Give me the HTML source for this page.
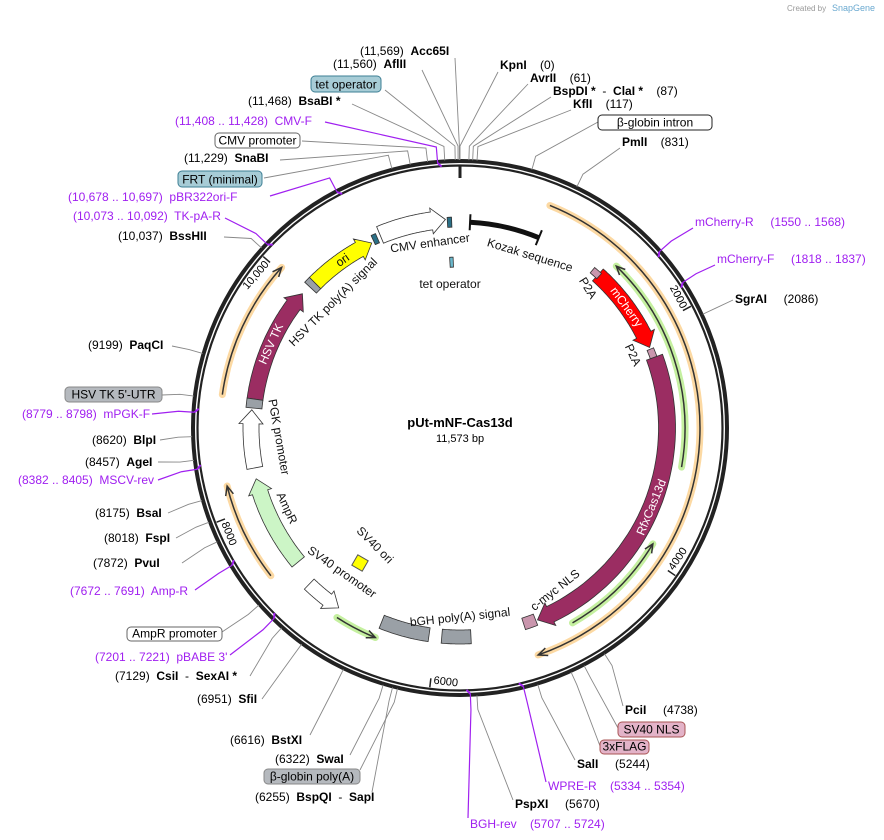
<!DOCTYPE html>
<html><head><meta charset="utf-8"><style>
html,body{margin:0;padding:0;background:#fff;}
svg{display:block;font-family:"Liberation Sans","DejaVu Sans",sans-serif;}
text{font-size:12px;}
.b{font-weight:bold;}
</style></head><body>
<svg id="s" width="884" height="840" viewBox="0 0 884 840" xmlns="http://www.w3.org/2000/svg">
<text x="787" y="11" style="font-size:8px" fill="#999">Created by</text>
<text x="832" y="11" style="font-size:9px" fill="#6aa9d0">SnapGene</text>
<g id="g"></g>
<text x="460" y="427" text-anchor="middle" class="b" style="font-size:13px">pUt-mNF-Cas13d</text>
<text x="460" y="442" text-anchor="middle" style="font-size:11px">11,573 bp</text>
</svg>
<script>
var NS="http://www.w3.org/2000/svg",G=document.getElementById('g');
var cx=460,cy=428,TOT=11573;
function el(t,a,txt){var e=document.createElementNS(NS,t);for(var k in a)e.setAttribute(k,a[k]);if(txt!==undefined)e.textContent=txt;G.appendChild(e);return e;}
function pt(r,d){var a=d*Math.PI/180;return [cx+r*Math.sin(a),cy-r*Math.cos(a)];}
function bp(b){return b/TOT*360;}
function band(r,w,a1,a2,head,fill,stroke){
 var pts=[],dir=a2>a1?1:-1,hd=head?Math.min(14/r*180/Math.PI,Math.abs(a2-a1)*0.6):0;
 var e=a2-dir*hd,n=40,i,a;
 for(i=0;i<=n;i++){a=a1+(e-a1)*i/n;pts.push(pt(r+w/2,a));}
 if(head){pts.push(pt(r+w/2+4,e));pts.push(pt(r,a2));pts.push(pt(r-w/2-4,e));}
 for(i=n;i>=0;i--){a=a1+(e-a1)*i/n;pts.push(pt(r-w/2,a));}
 el('polygon',{points:pts.map(function(p){return p[0].toFixed(1)+','+p[1].toFixed(1)}).join(' '),fill:fill,stroke:stroke||'#333','stroke-width':0.8});
}
function arcPath(r,a1,a2){var p1=pt(r,a1),p2=pt(r,a2),lg=Math.abs(a2-a1)>180?1:0,sw=a2>a1?1:0;return 'M'+p1[0]+','+p1[1]+' A'+r+','+r+' 0 '+lg+' '+sw+' '+p2[0]+','+p2[1];}
function primerArc(r,a1,a2,halo,noHead){
 el('path',{d:arcPath(r,a1,a2),fill:'none',stroke:halo,'stroke-width':7,'stroke-linecap':'round'});
 el('path',{d:arcPath(r,a1,a2),fill:'none',stroke:'#333','stroke-width':1.5});
 if(noHead)return;
 var dir=a2>a1?1:-1,b=a2-dir*2.2,p=pt(r,a2),q1=pt(r+4,b),q2=pt(r-4,b);
 el('polyline',{points:q1.join(',')+' '+p.join(',')+' '+q2.join(','),fill:'none',stroke:'#333','stroke-width':1.5});
}
el('circle',{cx:cx,cy:cy,r:267,fill:'none',stroke:'#222','stroke-width':4});
el('circle',{cx:cx,cy:cy,r:262.5,fill:'none',stroke:'#222','stroke-width':2.2});
[[2000,'2000',62,'end'],[4000,'4000',-55.6,'start'],[6000,'6000',6.6,'start'],[8000,'8000',68.8,'start'],[10000,'10,000',-49,'end']].forEach(function(t){
 var a=bp(t[0]),p1=pt(261,a),p2=pt(252,a);el('line',{x1:p1[0],y1:p1[1],x2:p2[0],y2:p2[1],stroke:'#222','stroke-width':1.5});
 var p=pt(254,a);
 var dx=t[3]=='end'?-2:3;
 el('text',{x:dx,y:0,transform:'translate('+p[0]+','+p[1]+') rotate('+t[2]+')','text-anchor':t[3],'dominant-baseline':'central',style:'font-size:11px'},t[1]);
});
el('line',{x1:460,y1:166,x2:460,y2:178,stroke:'#222','stroke-width':3});
var labs=[
 [[['(11,569)  ',0],['Acc65I',1]],360,55,'start',455,58,11569,0],
 [[['(11,560)  ',0],['AflII',1]],333,68,'start',422,70,11560,0],
 [[['(11,468)  ',0],['BsaBI *',1]],248,105,'start',352,104,11468,0],
 [[['(11,408 .. 11,428)  CMV-F',2]],175,125,'start',325,122,11418,1],
 [[['(11,229)  ',0],['SnaBI',1]],184,162,'start',280,160,11229,0],
 [[['(10,678 .. 10,697)  pBR322ori-F',2]],68,201,'start',270,196,10688,1],
 [[['(10,073 .. 10,092)  TK-pA-R',2]],73,220,'start',225,218,10082,1],
 [[['(10,037)  ',0],['BssHII',1]],118,240,'start',224,237,10037,0],
 [[['(9199)  ',0],['PaqCI',1]],88,349,'start',172,346,9199,0],
 [[['(8779 .. 8798)  mPGK-F',2]],22,418,'start',152,414,8789,1],
 [[['(8620)  ',0],['BlpI',1]],92,444,'start',160,440,8620,0],
 [[['(8457)  ',0],['AgeI',1]],85,466,'start',158,462,8457,0],
 [[['(8382 .. 8405)  MSCV-rev',2]],18,484,'start',158,480,8393,1],
 [[['(8175)  ',0],['BsaI',1]],95,517,'start',168,513,8175,0],
 [[['(8018)  ',0],['FspI',1]],104,542,'start',176,538,8018,0],
 [[['(7872)  ',0],['PvuI',1]],93,567,'start',182,563,7872,0],
 [[['(7672 .. 7691)  Amp-R',2]],70,595,'start',195,590,7681,1],
 [[['(7201 .. 7221)  pBABE 3\'',2]],95,661,'start',230,655,7211,1],
 [[['(7129)  ',0],['CsiI',1],['  -  ',0],['SexAI *',1]],115,680,'start',250,676,7129,0],
 [[['(6951)  ',0],['SfiI',1]],197,703,'start',262,699,6951,0],
 [[['(6616)  ',0],['BstXI',1]],230,744,'start',310,735,6616,0],
 [[['(6322)  ',0],['SwaI',1]],275,763,'start',350,755,6322,0],
 [[['(6255)  ',0],['BspQI',1],['  -  ',0],['SapI',1]],255,801,'start',372,792,6255,0],
 [[['KpnI',1],['    (0)',0]],500,69,'start',498,72,0,0],
 [[['AvrII',1],['    (61)',0]],530,82,'start',528,84,61,0],
 [[['BspDI *',1],['  -  ',0],['ClaI *',1],['    (87)',0]],553,95,'start',551,97,87,0],
 [[['KflI',1],['    (117)',0]],573,108,'start',571,110,117,0],
 [[['PmlI',1],['    (831)',0]],622,146,'start',620,148,831,0],
 [[['mCherry-R     (1550 .. 1568)',2]],695,226,'start',693,228,1559,1],
 [[['mCherry-F     (1818 .. 1837)',2]],717,263,'start',715,265,1827,1],
 [[['SgrAI',1],['     (2086)',0]],735,303,'start',733,300,2086,0],
 [[['PciI',1],['     (4738)',0]],625,714,'start',623,706,4738,0],
 [[['SalI',1],['     (5244)',0]],577,768,'start',575,760,5244,0],
 [[['WPRE-R    (5334 .. 5354)',2]],548,790,'start',546,782,5344,1],
 [[['PspXI',1],['     (5670)',0]],515,808,'start',513,800,5670,0],
 [[['BGH-rev    (5707 .. 5724)',2]],470,828,'start',468,818,5715,1]
];
function drawLine(x,y,a,purple){
 var p1=pt(282,a),p2=pt(purple?266:268,a);
 el('polyline',{points:x+','+y+' '+p1[0]+','+p1[1]+' '+p2[0]+','+p2[1],fill:'none',stroke:purple?'#a020f0':'#888','stroke-width':purple?1.2:0.9});
 if(purple){var q=pt(262,a+0.8);el('line',{x1:p2[0],y1:p2[1],x2:q[0],y2:q[1],stroke:'#a020f0','stroke-width':2});}
}
labs.forEach(function(L){drawLine(L[4],L[5],bp(L[6]),L[7]);});
var boxes=[
 ['tet operator',311,76,70,16,'#a7ccd6','#3d7f94',385,90,11540],
 ['CMV promoter',215,133,85,15,'#fff','#666',302,141,11350],
 ['FRT (minimal)',178,171,84,16,'#a7ccd6','#3d7f94',264,178,11100],
 ['HSV TK 5\'-UTR',65,387,97,15,'#b5b9be','#888',162,395,8900],
 ['AmpR promoter',127,627,95,14,'#fff','#666',222,632,7350],
 ['β-globin poly(A)',264,769,96,15,'#b5b9be','#888',360,770,6220],
 ['β-globin intron',598,115,114,15,'#fff','#222',598,122,500],
 ['SV40 NLS',618,722,67,15,'#e3b3c8','#a55',618,728,4900],
 ['3xFLAG',600,740,49,14,'#e3b3c8','#a55',600,746,5000]
];
boxes.forEach(function(B){drawLine(B[7],B[8],bp(B[9]),0);});
boxes.forEach(function(B){
 el('rect',{x:B[1],y:B[2],width:B[3],height:B[4],rx:4,fill:B[5],stroke:B[6],'stroke-width':1});
 el('text',{x:B[1]+B[3]/2,y:B[2]+B[4]-3.5,'text-anchor':'middle'},B[0]);
});
labs.forEach(function(L){
 var t=el('text',{x:L[1],y:L[2]});
 L[0].forEach(function(s){var sp=document.createElementNS(NS,'tspan');sp.textContent=s[0];
  if(s[1]==1)sp.setAttribute('font-weight','bold');if(s[1]==2)sp.setAttribute('fill','#a020f0');t.appendChild(sp);});
 t.setAttribute('style','white-space:pre');
});
primerArc(240,22,161,'#fcd9a3');
primerArc(225,100,44,'#c5f0a0');
primerArc(225,150,121,'#c5f0a0');
primerArc(240,-82,-48,'#fcd9a3');
primerArc(240,-128,-104,'#fcd9a3');
primerArc(226,-147,-158,'#c5f0a0');
band(207,17,70,158,1,'#9b2d62');
band(206,16,42,67,1,'#f00');
band(206,7,40,42.5,0,'#c996ad');band(206,7,67.5,70,0,'#c996ad');
band(206,12,158.5,162,0,'#c996ad');
band(209,18,-22.5,-4,1,'#fff');
band(205,16,-45,-25.5,1,'#ff0');
band(205,16,-46.8,-45,0,'#9aa0a6');
band(207,16,-82,-49.6,1,'#9b2d62');
band(207,16,-84.5,-82,0,'#9aa0a6');
band(209,16,-101,-85,1,'#fff');
band(210,16,-129.6,-104,1,'#ccf5c6');
band(217,14,-136,-146,1,'#fff');
band(209,14,188.5,202,0,'#9aa0a6');
band(209,14,177,185,0,'#9aa0a6');
band(206,10,-3.5,-2.3,0,'#2a6f86');
band(207,10,-24.8,-23.5,0,'#2a6f86');
band(166,10,-3.5,-2.3,0,'#6bb8cc');
el('path',{d:arcPath(206,2.8,22.5),fill:'none',stroke:'#111','stroke-width':5});
[2.8,22.5].forEach(function(a){var p=pt(214,a),q=pt(198,a);el('line',{x1:p[0],y1:p[1],x2:q[0],y2:q[1],stroke:'#111','stroke-width':2});});
el('rect',{x:354,y:557,width:12,height:12,fill:'#ff0',stroke:'#555',transform:'rotate(30 360 563)'});
function rt(txt,x,y,rot,fill){return el('text',{x:0,y:0,transform:'translate('+x+','+y+') rotate('+rot+')','text-anchor':'middle','dominant-baseline':'central',fill:fill||'#111'},txt);}
function rtA(txt,r,a,rot,fill){var p=pt(r,a);return rt(txt,p[0],p[1],rot,fill);}
rt('CMV enhancer',430,243,-8);
rt('Kozak sequence',530,255,17);
rt('tet operator',450,284,0);
rt('HSV TK poly(A) signal',333,302,-45);
rtA('ori',205,-35,-35);
rtA('HSV TK',207,-66,-66,'#fff');
rt('P2A',588,288,58);
rtA('mCherry',206,54,54,'#fff');
rt('P2A',633,355,65);
rtA('RfxCas13d',207,112.5,-67.5,'#fff');
rt('c-myc NLS',555,590,-38);
rt('bGH poly(A) signal',460,617,-6);
rt('SV40 ori',375,545,45);
rt('SV40 promoter',342,572,35);
rt('AmpR',287,508,65);
rt('PGK promoter',279,437,80);
</script>
</body></html>
